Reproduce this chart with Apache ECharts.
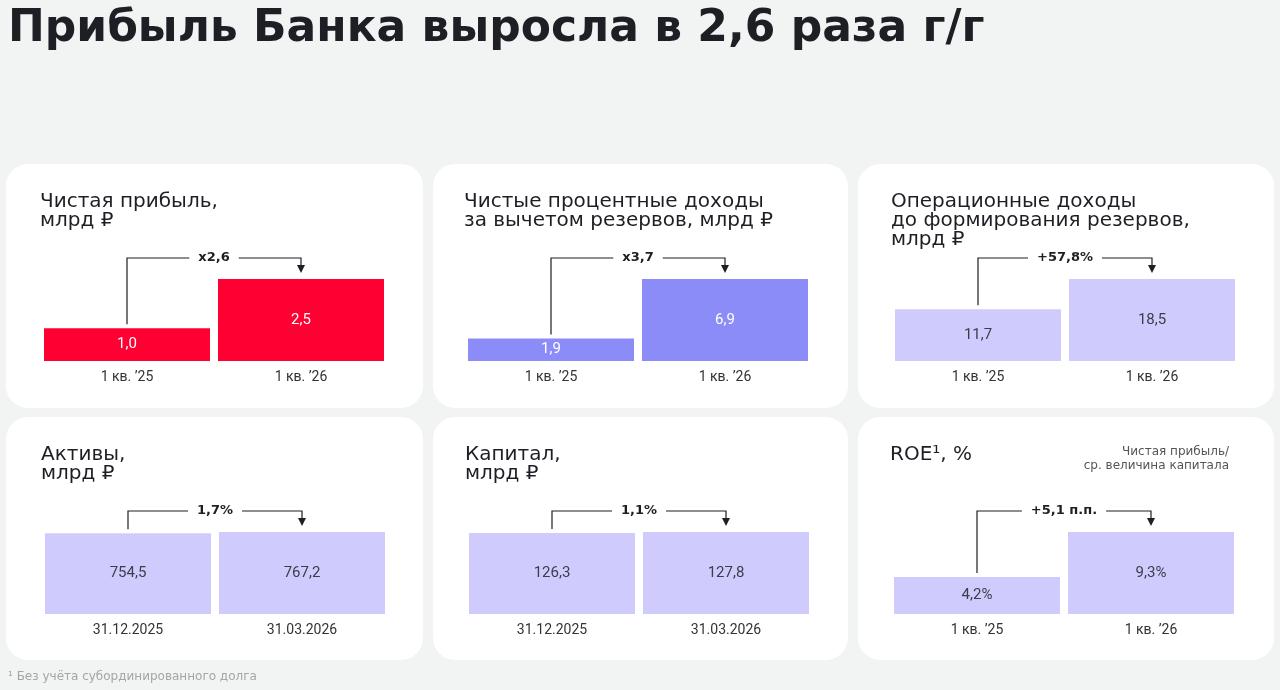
<!DOCTYPE html>
<html>
<head>
<meta charset="utf-8">
<script src="https://cdn.jsdelivr.net/npm/echarts@6/dist/echarts.min.js"></script>
<style>
  html, body { margin: 0; padding: 0; background: #f2f3f3; }
  #main { width: 1280px; height: 690px; }
</style>
</head>
<body>
<div id="main"></div>
<script>
// values
var quarters = ['1 кв. ’25', '1 кв. ’26'];
var dates = ['31.12.2025', '31.03.2026'];
var netProfit = [1.0, 2.5];
var netInterest = [1.9, 6.9];
var operIncome = [11.7, 18.5];
var assets = [754.5, 767.2];
var capital = [126.3, 127.8];
var roe = [4.2, 9.3];
var changes = ['x2,6', 'x3,7', '+57,8%', '1,7%', '1,1%', '+5,1 п.п.'];
var titles = [
    'Чистая прибыль,\nмлрд ₽',
    'Чистые процентные доходы\nза вычетом резервов, млрд ₽',
    'Операционные доходы\nдо формирования резервов,\nмлрд ₽',
    'Активы,\nмлрд ₽',
    'Капитал,\nмлрд ₽',
    'ROE¹, %'
];

var FONT = '"DejaVu Sans", sans-serif';
var SMALL = 'Roboto, sans-serif';
var INK = '#1d1f24';
var RED = '#ff0032';
var PURPLE = '#8c8cf8';
var LILAC = '#cfccfd';

var panels = [
    { data: netProfit, cats: quarters, color: RED, text: '#fff', suffix: '' },
    { data: netInterest, cats: quarters, color: PURPLE, text: '#fff', suffix: '' },
    { data: operIncome, cats: quarters, color: LILAC, text: '#3b3d4a', suffix: '' },
    { data: assets, cats: dates, color: LILAC, text: '#3b3d4a', suffix: '' },
    { data: capital, cats: dates, color: LILAC, text: '#3b3d4a', suffix: '' },
    { data: roe, cats: quarters, color: LILAC, text: '#3b3d4a', suffix: '%' }
];

// card boxes and plot placement
var cards = [
    [6, 164, 417, 244], [433, 164, 415, 244], [858, 164, 416, 244],
    [6, 417, 417, 243], [433, 417, 415, 243], [858, 417, 416, 243]
];
var gridLefts = [40, 464, 891, 41, 465, 890];
var gridTops = [279, 279, 279, 532, 532, 532];

function fmt(v) { return v.toFixed(1).replace('.', ','); }

var chart = echarts.init(document.getElementById('main'));

var grids = [], xAxes = [], yAxes = [], series = [];
panels.forEach(function (p, i) {
    grids.push({ left: gridLefts[i], top: gridTops[i], width: 348, height: 82 });
    xAxes.push({
        type: 'category', gridIndex: i, data: p.cats,
        axisLine: { show: false }, axisTick: { show: false },
        axisLabel: { color: '#333', fontSize: 14, fontFamily: SMALL, margin: 9 }
    });
    yAxes.push({
        type: 'value', gridIndex: i, min: 0, max: Math.max.apply(null, p.data), show: false
    });
    series.push({
        type: 'bar', xAxisIndex: i, yAxisIndex: i, data: p.data, barWidth: 166,
        itemStyle: { color: p.color },
        label: {
            show: true, position: 'inside', color: p.text, fontSize: 15, fontFamily: SMALL,
            formatter: function (d) { return fmt(d.value) + p.suffix; }
        },
        silent: true
    });
});

chart.setOption({
    backgroundColor: '#f2f3f3',
    animation: false,
    grid: grids, xAxis: xAxes, yAxis: yAxes, series: series
});

var graphic = [{
    type: 'text', left: 8, top: 8, z: 5,
    style: { text: 'Прибыль Банка выросла в 2,6 раза г/г', fill: INK, fontSize: 44, fontWeight: 'bold', fontFamily: FONT }
}, {
    type: 'text', left: 8, top: 671, z: 5,
    style: { text: '¹ Без учёта субординированного долга', fill: '#a3a5a8', fontSize: 12, fontFamily: FONT }
}, {
    type: 'text', x: 1229, y: 445, z: 5,
    style: { text: 'Чистая прибыль/\nср. величина капитала', align: 'right', fill: '#555', fontSize: 12, lineHeight: 14, fontFamily: FONT }
}];

cards.forEach(function (c, i) {
    graphic.push({
        type: 'rect', z: 0, silent: true,
        shape: { x: c[0], y: c[1], width: c[2], height: c[3], r: 22 },
        style: { fill: '#fff' }
    });
    graphic.push({
        type: 'text', x: gridLefts[i], y: c[1] + 28, z: 5,
        style: { text: titles[i], fill: INK, fontSize: 20, lineHeight: 19, fontFamily: FONT }
    });
});

// growth connectors, placed from the bars' own pixel positions
panels.forEach(function (p, i) {
    var a = chart.convertToPixel({ gridIndex: i }, [p.cats[0], p.data[0]]);
    var b = chart.convertToPixel({ gridIndex: i }, [p.cats[1], p.data[1]]);
    var top = Math.min(a[1], b[1]) - 21;
    graphic.push({
        type: 'polyline', z: 5, silent: true,
        shape: { points: [[a[0], a[1] - 4], [a[0], top], [b[0], top], [b[0], b[1] - 13]] },
        style: { stroke: INK, lineWidth: 1.2, fill: null }
    });
    graphic.push({
        type: 'polygon', z: 5, silent: true,
        shape: { points: [[b[0] - 4, b[1] - 14], [b[0] + 4, b[1] - 14], [b[0], b[1] - 6]] },
        style: { fill: INK }
    });
    graphic.push({
        type: 'text', x: (a[0] + b[0]) / 2, y: top, z: 6,
        style: {
            text: changes[i], align: 'center', verticalAlign: 'middle', fill: INK,
            fontSize: 13, fontWeight: 'bold', fontFamily: FONT,
            backgroundColor: '#fff', padding: [2, 9]
        }
    });
});

chart.setOption({ graphic: graphic });
</script>
</body>
</html>
